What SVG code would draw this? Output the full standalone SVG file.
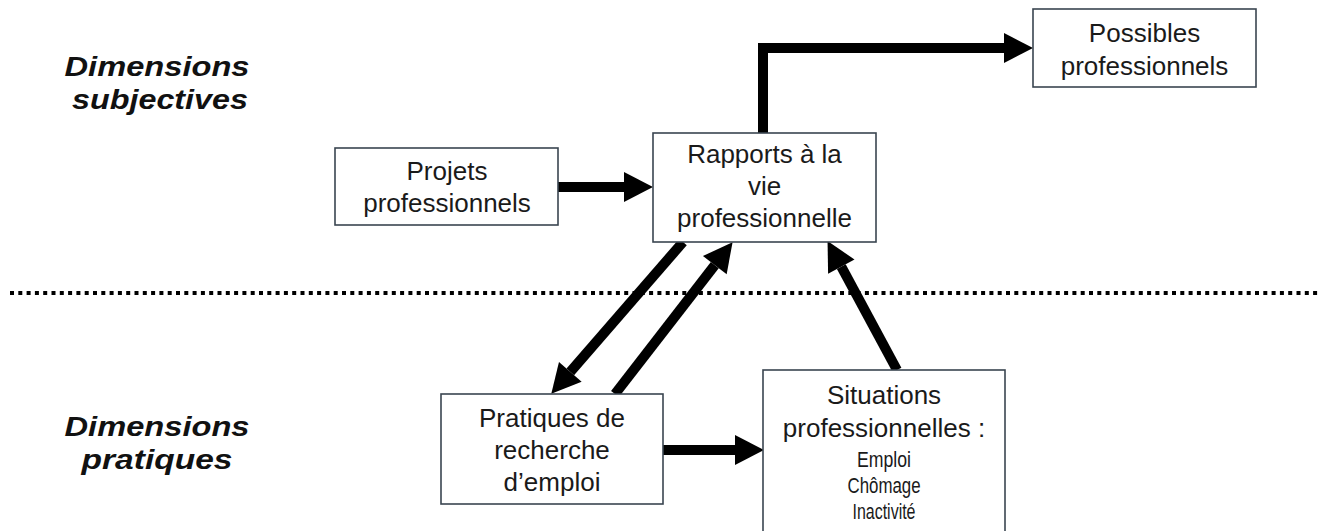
<svg xmlns="http://www.w3.org/2000/svg" width="1332" height="531" viewBox="0 0 1332 531">
<style>
.box{fill:#fff;stroke:#3a4550;stroke-width:1.6}
.t{font-family:"Liberation Sans",Arial,sans-serif;font-size:26px;fill:#1a1a1a;text-anchor:middle}
.s{font-family:"Liberation Sans Narrow","Liberation Sans",Arial,sans-serif;font-size:22px;fill:#1a1a1a;text-anchor:middle}
.dim{font-family:"Liberation Sans",Arial,sans-serif;font-size:28.5px;font-weight:bold;font-style:italic;fill:#111;text-anchor:middle}
.c{fill:none;stroke:#000;stroke-width:10}
</style>
<defs>
<marker id="ah" markerUnits="userSpaceOnUse" markerWidth="30" markerHeight="32" refX="0" refY="15" orient="auto" overflow="visible">
<path d="M0,0 L29,15 L0,30 z" fill="#000"/>
</marker>
</defs>
<rect width="1332" height="531" fill="#fff"/>
<g id="labels">
<text class="dim" x="157" y="76" textLength="185" lengthAdjust="spacingAndGlyphs">Dimensions</text>
<text class="dim" x="160" y="109" textLength="176" lengthAdjust="spacingAndGlyphs">subjectives</text>
<text class="dim" x="157" y="436" textLength="185" lengthAdjust="spacingAndGlyphs">Dimensions</text>
<text class="dim" x="157" y="469" textLength="151" lengthAdjust="spacingAndGlyphs">pratiques</text>
</g>
<line x1="10" y1="293" x2="1320" y2="293" stroke="#000" stroke-width="4" stroke-dasharray="4 4.3"/>
<g id="connectors">
<line class="c" x1="558" y1="187" x2="624" y2="187" marker-end="url(#ah)"/>
<path class="c" d="M763,133 V48 H1004" marker-end="url(#ah)"/>
<line class="c" x1="683" y1="242" x2="570.3" y2="371.9" marker-end="url(#ah)"/>
<line class="c" x1="615" y1="394" x2="714.8" y2="265.1" marker-end="url(#ah)"/>
<line class="c" x1="663" y1="450" x2="735" y2="450" marker-end="url(#ah)"/>
<line class="c" x1="897" y1="370" x2="841.3" y2="266.6" marker-end="url(#ah)"/>
</g>
<g id="projets">
<rect class="box" x="335" y="148" width="223" height="77"/>
<text class="t" x="447" y="180">Projets</text>
<text class="t" x="447" y="212">professionnels</text>
</g>
<g id="rapports">
<rect class="box" x="653" y="133" width="223" height="109"/>
<text class="t" x="764.5" y="163">Rapports à la</text>
<text class="t" x="764.5" y="195">vie</text>
<text class="t" x="764.5" y="227">professionnelle</text>
</g>
<g id="possibles">
<rect class="box" x="1033" y="9" width="223" height="78"/>
<text class="t" x="1144.5" y="42">Possibles</text>
<text class="t" x="1144.5" y="75">professionnels</text>
</g>
<g id="pratiques">
<rect class="box" x="441" y="394" width="222" height="110"/>
<text class="t" x="552" y="427">Pratiques de</text>
<text class="t" x="552" y="459">recherche</text>
<text class="t" x="552" y="491">d’emploi</text>
</g>
<g id="situations">
<rect class="box" x="763" y="370" width="242" height="170"/>
<text class="t" x="884" y="404">Situations</text>
<text class="t" x="884" y="437">professionnelles :</text>
<text class="s" x="884" y="467" textLength="54" lengthAdjust="spacingAndGlyphs">Emploi</text>
<text class="s" x="884" y="493" textLength="73" lengthAdjust="spacingAndGlyphs">Chômage</text>
<text class="s" x="884" y="519" textLength="63" lengthAdjust="spacingAndGlyphs">Inactivité</text>
</g>
</svg>
